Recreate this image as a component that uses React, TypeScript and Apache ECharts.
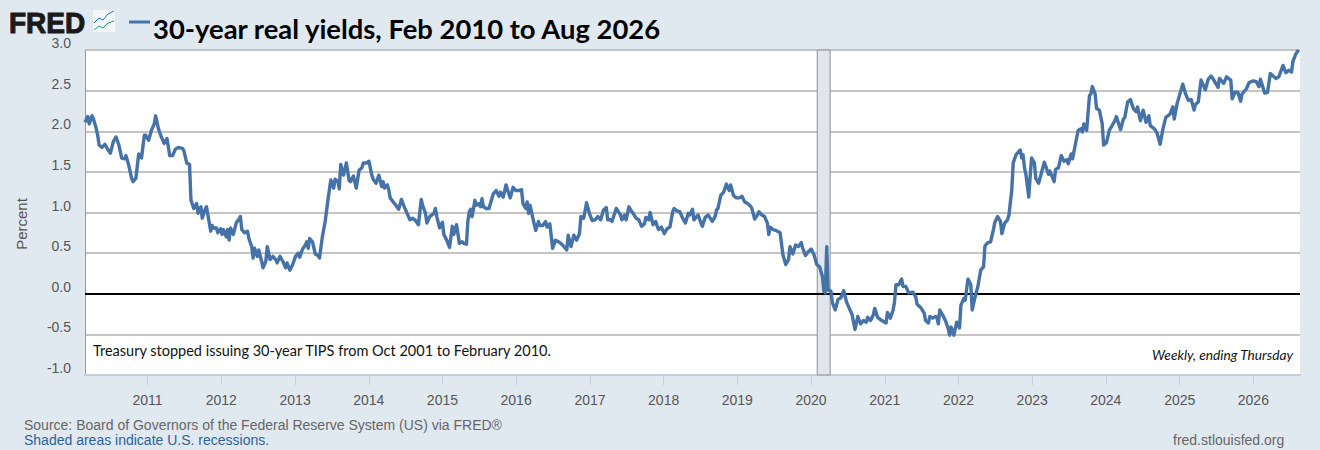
import React, { useEffect, useRef } from "react";
import * as echarts from "echarts";

const TITLE = "30-year real yields, Feb 2010 to Aug 2026";
const NOTE = "Treasury stopped issuing 30-year TIPS from Oct 2001 to February 2010.";
const FREQUENCY = "Weekly, ending Thursday";
const SOURCE = "Source: Board of Governors of the Federal Reserve System (US) via FRED®";
const SHADED = "Shaded areas indicate U.S. recessions.";
const SITE = "fred.stlouisfed.org";
const Y_TITLE = "Percent";

const tickYears = [2011, 2012, 2013, 2014, 2015, 2016, 2017, 2018, 2019, 2020, 2021, 2022, 2023, 2024, 2025, 2026];
const recession = ["2020-02-01", "2020-04-05"];
const FIRST_WEEK = Date.UTC(2010, 1, 25);
const LAST_WEEK_INDEX = 860;

// Week numbers counted from the first observation, with the yield read at each.
const weeks1 = [0, 2, 3, 5, 6, 8, 9, 10, 12, 14, 16, 18, 20, 22, 24, 26, 28, 29, 31, 33, 34, 36, 38, 40, 42, 43, 45, 47, 49, 50, 52, 54, 56, 58, 60, 62, 64, 66, 69, 70, 72, 74, 75, 77, 79, 80, 82, 83];
const yields1 = [2.11, 2.18, 2.09, 2.19, 2.15, 2.03, 1.95, 1.83, 1.8, 1.84, 1.78, 1.73, 1.87, 1.93, 1.83, 1.67, 1.66, 1.7, 1.58, 1.42, 1.38, 1.42, 1.72, 1.67, 1.95, 1.95, 1.89, 2.01, 2.09, 2.19, 2.03, 1.93, 1.85, 1.91, 1.7, 1.7, 1.78, 1.8, 1.79, 1.76, 1.61, 1.59, 1.15, 1.05, 1.11, 0.99, 1.07, 0.93];

const weeks2 = [85, 86, 87, 89, 90, 91, 93, 94, 96, 97, 98, 100, 101, 102, 103, 105, 107, 109, 110, 111, 113, 115, 116, 118, 119, 120, 122, 123, 125, 126, 128, 129, 131, 133, 135, 136, 138, 140, 142, 143, 145, 147, 149, 151, 152, 154, 156, 157, 158, 159, 161, 163, 165, 166, 168, 170, 172, 173, 174, 176];
const yields2 = [1.04, 1.07, 0.97, 0.77, 0.84, 0.81, 0.81, 0.75, 0.8, 0.73, 0.79, 0.7, 0.79, 0.66, 0.81, 0.73, 0.87, 0.92, 0.95, 0.79, 0.75, 0.77, 0.68, 0.58, 0.44, 0.56, 0.46, 0.54, 0.4, 0.32, 0.4, 0.58, 0.42, 0.46, 0.42, 0.38, 0.46, 0.4, 0.32, 0.38, 0.29, 0.36, 0.46, 0.5, 0.45, 0.55, 0.6, 0.64, 0.56, 0.68, 0.64, 0.49, 0.47, 0.44, 0.7, 0.89, 1.16, 1.28, 1.4, 1.3];

const weeks3 = [177, 179, 180, 181, 183, 185, 187, 188, 190, 192, 194, 196, 197, 199, 201, 203, 204, 206, 208, 210, 211, 212, 214, 215, 216, 219, 220, 222, 224, 226, 227, 229, 230, 232, 234, 236, 238, 239, 241, 242, 244, 247, 248, 249, 251, 253, 254, 256, 258, 260, 261, 263, 265, 267, 268, 270, 271, 272];
const yields3 = [1.41, 1.38, 1.29, 1.59, 1.46, 1.61, 1.39, 1.38, 1.45, 1.3, 1.52, 1.55, 1.61, 1.61, 1.63, 1.46, 1.41, 1.36, 1.46, 1.32, 1.38, 1.3, 1.34, 1.28, 1.18, 1.11, 1.09, 1.04, 1.16, 1.07, 1.03, 0.95, 0.91, 0.93, 0.9, 0.85, 1.16, 1.09, 0.99, 0.87, 0.95, 0.99, 1.05, 0.95, 0.81, 0.88, 0.73, 0.66, 0.57, 0.83, 0.73, 0.85, 0.62, 0.64, 0.62, 0.61, 0.89, 1.01];

const weeks4 = [273, 274, 276, 277, 279, 280, 281, 282, 284, 286, 287, 289, 291, 293, 294, 296, 298, 300, 301, 303, 305, 307, 309, 310, 312, 313, 314, 315, 317, 319, 321, 322, 324, 326, 327, 329, 331, 333, 336, 338, 341, 342, 344, 346, 348, 350, 351, 353, 355, 357, 359, 361, 363, 365, 367, 369, 370];
const yields4 = [1.04, 0.95, 1.15, 1.09, 1.11, 1.07, 1.17, 1.07, 1.05, 1.05, 1.11, 1.23, 1.27, 1.2, 1.25, 1.19, 1.34, 1.23, 1.18, 1.31, 1.27, 1.27, 1.28, 1.11, 1.05, 1.13, 0.99, 1.09, 0.93, 0.78, 0.89, 0.84, 0.84, 0.89, 0.82, 0.86, 0.56, 0.66, 0.63, 0.6, 0.54, 0.72, 0.58, 0.72, 0.66, 0.74, 0.95, 0.93, 1.12, 0.99, 0.9, 0.91, 0.95, 0.91, 1.03, 1.06, 0.91];

const weeks5 = [372, 373, 376, 379, 380, 382, 383, 385, 387, 388, 390, 392, 394, 396, 397, 399, 400, 402, 404, 405, 406, 408, 410, 412, 414, 416, 417, 419, 421, 423, 425, 427, 428, 430, 431, 434, 436, 437, 439, 441, 444, 446, 447, 448, 450, 452, 454, 456, 457, 459, 461, 463, 465, 467, 469, 471];
const yields5 = [0.91, 0.89, 1.05, 0.97, 0.91, 0.97, 0.91, 1.07, 1.01, 0.99, 0.93, 0.91, 0.83, 0.86, 0.94, 0.91, 1.0, 0.85, 0.89, 0.83, 0.79, 0.82, 0.74, 0.8, 0.82, 1.01, 1.05, 1.02, 1.01, 0.93, 0.87, 0.99, 0.97, 1.04, 0.91, 0.97, 0.87, 0.83, 0.94, 0.97, 0.89, 0.95, 1.03, 1.05, 1.21, 1.25, 1.35, 1.27, 1.34, 1.21, 1.18, 1.18, 1.2, 1.13, 1.11, 1.08];

const weeks6 = [472, 474, 476, 477, 479, 481, 483, 484, 485, 487, 489, 492, 494, 496, 498, 499, 501, 503, 505, 507, 508, 510, 512, 514, 516, 518, 520, 522, 523, 524, 525, 526, 528, 529, 531, 533, 535, 537];
const yields6 = [1.05, 0.92, 0.97, 1.01, 0.97, 0.95, 0.87, 0.73, 0.82, 0.79, 0.78, 0.75, 0.48, 0.36, 0.42, 0.58, 0.49, 0.6, 0.58, 0.63, 0.56, 0.47, 0.52, 0.55, 0.48, 0.36, 0.33, 0.21, 0.03, 0.01, 0.58, 0.05, 0.03, -0.11, -0.2, -0.07, -0.05, 0.04];

const weeks7 = [539, 541, 543, 545, 547, 549, 551, 553, 554, 556, 558, 559, 561, 564, 567, 568, 570, 572, 573, 574, 576, 578, 579, 581, 583, 586, 588, 589, 592, 594, 595, 597, 598, 600, 602, 603, 604, 605, 607, 609, 611, 612, 613, 615, 617, 619, 620, 622, 623, 625, 627, 628, 630, 632, 634, 636, 637, 639, 641, 643];
const yields7 = [-0.1, -0.18, -0.26, -0.44, -0.28, -0.37, -0.33, -0.35, -0.29, -0.33, -0.26, -0.18, -0.29, -0.33, -0.36, -0.23, -0.3, -0.2, -0.1, 0.11, 0.11, 0.18, 0.09, 0.09, 0.01, 0.02, -0.04, -0.13, -0.18, -0.24, -0.33, -0.36, -0.28, -0.3, -0.28, -0.29, -0.37, -0.2, -0.26, -0.33, -0.43, -0.51, -0.41, -0.51, -0.35, -0.42, -0.14, -0.06, -0.08, 0.18, 0.11, -0.2, -0.04, 0.09, 0.29, 0.33, 0.59, 0.63, 0.64, 0.79];

const weeks8 = [644, 646, 648, 649, 651, 653, 654, 656, 657, 659, 660, 662, 663, 664, 665, 666, 668, 669, 670, 672, 673, 675, 677, 679, 682, 683, 686, 687, 689, 691, 693, 695, 696];
const yields8 = [0.88, 0.95, 0.89, 0.74, 0.87, 0.91, 0.97, 1.28, 1.61, 1.71, 1.73, 1.77, 1.67, 1.71, 1.55, 1.47, 1.19, 1.44, 1.67, 1.61, 1.42, 1.36, 1.49, 1.62, 1.47, 1.51, 1.38, 1.53, 1.55, 1.7, 1.63, 1.65, 1.6];

const weeks9 = [698, 699, 701, 703, 705, 706, 707, 709, 711, 712, 713, 715, 716, 718, 720, 721, 723, 725, 727, 729, 730, 733, 735, 736, 738, 740, 742, 744, 745, 747, 749, 751, 753, 754, 757, 759, 761, 763, 765, 768, 770, 771, 773, 775, 777, 779, 781, 783, 785, 786, 788, 790, 793, 795, 797, 799, 802, 803, 806, 808, 811, 812, 814, 816, 818, 819, 822, 824, 827, 829, 831, 832, 835, 837, 839, 843, 845, 848, 850, 852, 854, 855, 857, 859];
const yields9 = [1.72, 1.66, 1.84, 2.01, 2.03, 1.99, 2.09, 2.01, 2.44, 2.46, 2.55, 2.46, 2.28, 2.26, 2.09, 1.83, 1.86, 2.01, 2.07, 2.13, 2.18, 2.02, 2.15, 2.17, 2.36, 2.39, 2.28, 2.24, 2.3, 2.13, 2.26, 2.11, 2.19, 2.07, 2.03, 1.97, 1.84, 2.03, 2.17, 2.21, 2.3, 2.15, 2.34, 2.46, 2.58, 2.46, 2.38, 2.39, 2.26, 2.33, 2.36, 2.63, 2.51, 2.64, 2.68, 2.63, 2.54, 2.65, 2.59, 2.67, 2.63, 2.4, 2.48, 2.48, 2.37, 2.46, 2.52, 2.6, 2.62, 2.61, 2.55, 2.64, 2.47, 2.48, 2.71, 2.65, 2.67, 2.81, 2.72, 2.75, 2.73, 2.86, 2.95, 3.0];

const allWeeks = [...weeks1, ...weeks2, ...weeks3, ...weeks4, ...weeks5, ...weeks6, ...weeks7, ...weeks8, ...weeks9];
const allYields = [...yields1, ...yields2, ...yields3, ...yields4, ...yields5, ...yields6, ...yields7, ...yields8, ...yields9];

const WEEK_MS = 7 * 86400000;
const toTime = (w: number) => FIRST_WEEK + w * WEEK_MS;

const BG = "#e1e9f0";
const LINE = "#4572a7";
const ARIAL = "'Liberation Sans', Arial, sans-serif";
const CALIBRI = "Lato, sans-serif";

export default function App() {
  const ref = useRef<HTMLDivElement>(null);

  useEffect(() => {
    document.body.style.margin = "0";
    const yearStarts = tickYears.map((y) => Date.UTC(y, 0, 1));
    const chart = echarts.init(ref.current!, null, { renderer: "svg" });
    chart.setOption({
      animation: false,
      backgroundColor: BG,
      grid: { show: true, backgroundColor: "#ffffff", borderWidth: 0, left: 85, right: 20, top: 50, bottom: 75, containLabel: false },
      xAxis: {
        type: "value",
        min: FIRST_WEEK,
        max: toTime(LAST_WEEK_INDEX),
        axisLine: { show: true, onZero: false, lineStyle: { color: "#c0d0e0", width: 2 } },
        axisTick: {
          show: true,
          length: 10,
          lineStyle: { color: "#c0d0e0" },
          customValues: yearStarts,
        },
        axisLabel: {
          show: true,
          margin: 18,
          color: "#555555",
          fontFamily: ARIAL,
          fontSize: 14,
          customValues: yearStarts,
          formatter: (v: number) => String(new Date(v).getUTCFullYear()),
        },
        splitLine: { show: false },
      },
      yAxis: {
        type: "value",
        min: -1,
        max: 3,
        interval: 0.5,
        axisLine: { show: true, onZero: false, lineStyle: { color: "#999999", width: 1 } },
        axisTick: { show: false },
        axisLabel: {
          color: "#555555",
          fontFamily: ARIAL,
          fontSize: 14,
          margin: 14,
          verticalAlign: "bottom",
          formatter: (v: number) => v.toFixed(1),
        },
        splitLine: { show: true, lineStyle: { color: "#c4c4c4", width: 2 } },
      },
      series: [
        {
          type: "line",
          name: "30-year real yields",
          data: allWeeks.map((w, i) => [toTime(w), allYields[i]]),
          showSymbol: false,
          symbol: "none",
          clip: false,
          z: 5,
          lineStyle: { color: LINE, width: 3.4, join: "round" },
          markArea: {
            silent: true,
            itemStyle: { color: "#e1e6ec", borderColor: "#8f8f8f", borderWidth: 1 },
            data: [[{ xAxis: Date.parse(recession[0]) }, { xAxis: Date.parse(recession[1]) }]],
          },
          markLine: {
            silent: true,
            symbol: "none",
            label: { show: false },
            lineStyle: { color: "#000000", width: 2, type: "solid" },
            data: [{ yAxis: 0 }],
          },
        },
      ],
      graphic: [
        { type: "text", x: 9, y: 8, z: 20, scaleY: 1.05, style: { text: "FRED", font: `900 28px ${ARIAL}`, fill: "#1a1a1a", stroke: "#1a1a1a", lineWidth: 1 } },
        { type: "rect", x: 93, y: 10, z: 20, shape: { width: 22, height: 22 }, style: { fill: "#f4f7fa" } },
        { type: "polyline", z: 21, shape: { points: [[94, 23], [99, 18], [103, 20], [108, 14], [114, 11]] }, style: { stroke: "#2b6fd0", lineWidth: 1, fill: "none" } },
        { type: "polyline", z: 21, shape: { points: [[94, 30], [99, 26], [103, 28], [108, 23], [114, 21]] }, style: { stroke: "#2f9a78", lineWidth: 1, fill: "none" } },
        { type: "line", z: 20, shape: { x1: 129, y1: 22, x2: 150, y2: 22 }, style: { stroke: LINE, lineWidth: 3 } },
        { type: "text", x: 153, y: 15, z: 20, style: { text: TITLE, font: `bold 27.4px ${CALIBRI}`, fill: "#000000" } },
        { type: "text", x: 93, y: 343, z: 20, style: { text: NOTE, font: `14.5px ${CALIBRI}`, fill: "#111111" } },
        { type: "text", x: 1152, y: 347, z: 20, style: { text: FREQUENCY, font: `italic 13.7px ${CALIBRI}`, fill: "#111111" } },
        { type: "text", x: 21, y: 224, z: 20, rotation: Math.PI / 2, style: { text: Y_TITLE, font: `15px ${ARIAL}`, fill: "#555555", align: "center", verticalAlign: "middle" } },
        { type: "text", x: 24, y: 418, z: 20, style: { text: SOURCE, font: `14px ${ARIAL}`, fill: "#666666" } },
        { type: "text", x: 24, y: 433, z: 20, style: { text: SHADED, font: `14px ${ARIAL}`, fill: "#2f6299" } },
        { type: "text", x: 1173, y: 433, z: 20, style: { text: SITE, font: `14px ${ARIAL}`, fill: "#666666" } },
      ],
    });
    return () => chart.dispose();
  }, []);

  return <div ref={ref} style={{ width: 1320, height: 450 }} />;
}
